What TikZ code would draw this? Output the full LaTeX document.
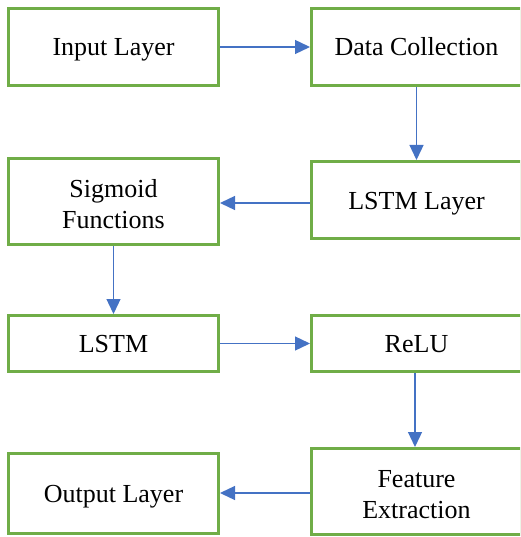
\documentclass[tikz,border=0pt]{standalone}
\usepackage{fontspec}
\setmainfont{Liberation Serif}
\usetikzlibrary{arrows.meta}
\definecolor{boxgreen}{HTML}{70AD47}
\definecolor{flowblue}{HTML}{4472C4}
\tikzset{
  stage/.style={draw=boxgreen, line width=3pt, rectangle, minimum width=210pt,
    align=center, inner sep=0pt, font=\fontsize{26}{31}\selectfont},
  oneline/.style={stage, text height=22pt, text depth=4pt},
  twoline/.style={stage, text height=54pt, text depth=0pt},
  flow/.style={draw=flowblue, line width=1.3pt,
    -{Triangle[length=15pt,width=14pt]}, color=flowblue}
}
\begin{document}
\begin{tikzpicture}[x=1pt,y=-1pt]
\useasboundingbox (0,0) rectangle (520,537);
\clip (0,0) rectangle (520,537);
% left column
\node[oneline, minimum height=77pt] (input) at (113.5,47) {Input Layer};
\node[twoline, minimum height=86pt] (sigmoid) at (113.5,201.5) {Sigmoid\\Functions};
\node[oneline, minimum height=56pt] (lstm) at (113.5,343.5) {LSTM};
\node[oneline, minimum height=80pt] (output) at (113.5,493.5) {Output Layer};
% right column
\node[oneline, minimum height=77pt] (data) at (416.5,47) {Data Collection};
\node[oneline, minimum height=77pt] (lstmlayer) at (416.5,200) {LSTM Layer};
\node[oneline, minimum height=56pt] (relu) at (416.5,343.5) {ReLU};
\node[twoline, minimum height=86pt] (feature) at (416.5,491.5) {Feature\\Extraction};
% connectors
\draw[flow] (input.east) -- (data.west);
\draw[flow] (data.south) -- (lstmlayer.north);
\draw[flow] ([yshift=-3pt]lstmlayer.west) -- ([yshift=-3pt]lstmlayer.west -| sigmoid.east);
\draw[flow] (sigmoid.south) -- (lstm.north);
\draw[flow] (lstm.east) -- (relu.west);
\draw[flow] ([xshift=-1.5pt]relu.south) -- ([xshift=-1.5pt]feature.north);
\draw[flow] ([yshift=-1.5pt]feature.west) -- ([yshift=-1.5pt]feature.west -| output.east);
\end{tikzpicture}
\end{document}
